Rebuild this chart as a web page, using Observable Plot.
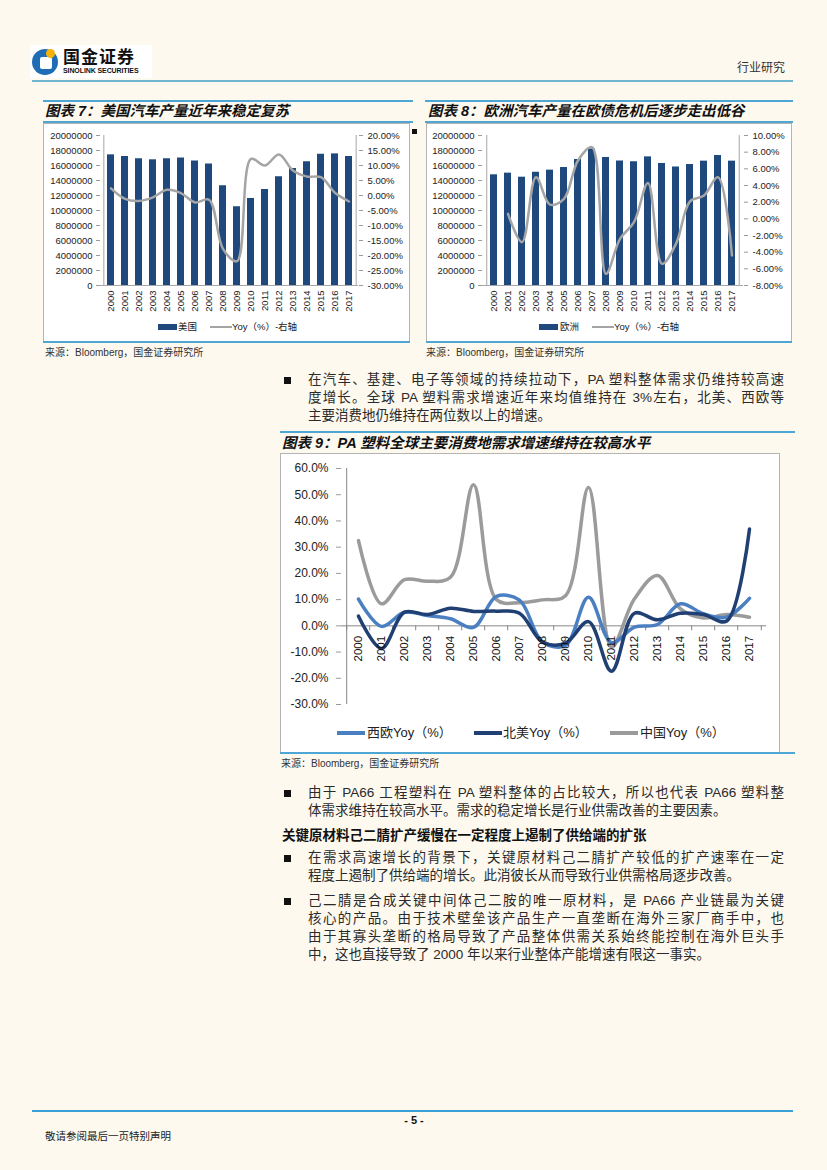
<!DOCTYPE html>
<html><head><meta charset="utf-8">
<script src="https://cdn.jsdelivr.net/npm/d3@7"></script>
<script src="https://cdn.jsdelivr.net/npm/@observablehq/plot@0.6"></script>
<style>
html,body{margin:0;padding:0;background:#fdf9ef;}
#page{position:relative;width:827px;height:1170px;overflow:hidden;background:#fdf9ef;font-family:"Liberation Sans","Noto Sans CJK SC",sans-serif;color:#222;}
.abs{position:absolute;}
.bl{position:absolute;height:2px;background:#4ea6d4;}
.ctitle{position:absolute;font-family:"Liberation Sans","Noto Sans CJK SC";font-weight:700;font-style:italic;font-size:14.5px;color:#111;white-space:nowrap;line-height:16px;}
.box{position:absolute;background:#fff;border:1px solid #b4b4b4;box-sizing:border-box;}
.src{position:absolute;font-size:10px;color:#333;white-space:nowrap;line-height:12px;}
.ln{position:absolute;left:308px;width:476px;font-size:13.5px;line-height:18px;color:#2a2a2a;white-space:nowrap;}
.j{text-align:justify;text-align-last:justify;}
.sq{position:absolute;left:284px;width:7px;height:7px;background:#111;}
.leg{position:absolute;font-size:9.5px;color:#222;white-space:nowrap;line-height:12px;}
.sw{position:absolute;}
#page svg g[aria-label$="axis tick"]{stroke:#9a9a9a;}
</style></head>
<body>
<div id="page">
  <!-- header -->
  <div class="abs" style="left:30px;top:45px;width:122px;height:33px;background:#fff;"></div>
  <div class="abs" style="left:32px;top:49px;width:26px;height:26px;border-radius:50%;background:#1f6db5;"></div>
  <div class="abs" style="left:40px;top:57px;width:12px;height:12px;border-radius:2px;background:#fff;"></div>
  <div class="abs" style="left:46px;top:49px;width:9px;height:9px;border-radius:50%;background:#f2b20a;"></div>
  <div class="abs" style="left:63px;top:46px;font:700 17px 'Noto Sans CJK SC';letter-spacing:1px;color:#111;line-height:20px;">国金证券</div>
  <div class="abs" style="left:63px;top:67px;font:700 7px 'Liberation Sans';color:#111;line-height:8px;letter-spacing:-0.1px;">SINOLINK SECURITIES</div>
  <div class="abs" style="left:737px;top:60px;font:12px 'Noto Sans CJK SC';color:#333;line-height:14px;">行业研究</div>
  <div class="bl" style="left:32px;top:80px;width:761px;background:#6fb6d0;"></div>

  <!-- chart 7 -->
  <div class="bl" style="left:43px;top:100px;width:370px;"></div>
  <div class="ctitle" style="left:45px;top:103px;">图表 7：美国汽车产量近年来稳定复苏</div>
  <div class="bl" style="left:43px;top:121px;width:370px;"></div>
  <div class="box" style="left:43px;top:123px;width:367px;height:220px;"></div>
  <div class="bl" style="left:43px;top:341px;width:367px;"></div>
  <div id="c7a" class="abs" style="left:44px;top:124px;"></div>
  <div id="c7b" class="abs" style="left:44px;top:124px;"></div>
  <div class="sw" style="left:158px;top:324px;width:19px;height:6px;background:#1f497d;"></div>
  <div class="leg" style="left:178px;top:321px;">美国</div>
  <div class="sw" style="left:210px;top:326px;width:22px;height:2px;background:#a5a5a5;"></div>
  <div class="leg" style="left:232px;top:321px;">Yoy（%）-右轴</div>
  <div class="src" style="left:45px;top:347px;">来源：Bloomberg，国金证券研究所</div>

  <div class="abs" style="left:412px;top:129px;width:5px;height:5px;background:#111;"></div>

  <!-- chart 8 -->
  <div class="bl" style="left:425px;top:100px;width:368px;"></div>
  <div class="ctitle" style="left:428px;top:103px;">图表 8：欧洲汽车产量在欧债危机后逐步走出低谷</div>
  <div class="bl" style="left:425px;top:121px;width:368px;"></div>
  <div class="box" style="left:426px;top:123px;width:366px;height:220px;"></div>
  <div class="bl" style="left:426px;top:341px;width:366px;"></div>
  <div id="c8a" class="abs" style="left:427px;top:124px;"></div>
  <div id="c8b" class="abs" style="left:427px;top:124px;"></div>
  <div class="sw" style="left:539px;top:324px;width:19px;height:6px;background:#1f497d;"></div>
  <div class="leg" style="left:560px;top:321px;">欧洲</div>
  <div class="sw" style="left:592px;top:326px;width:22px;height:2px;background:#a5a5a5;"></div>
  <div class="leg" style="left:614px;top:321px;">Yoy（%）-右轴</div>
  <div class="src" style="left:426px;top:347px;">来源：Bloomberg，国金证券研究所</div>

  <!-- paragraph 1 -->
  <div class="sq" style="top:377px;"></div>
  <div class="ln j" style="top:371px;">在汽车、基建、电子等领域的持续拉动下，PA 塑料整体需求仍维持较高速</div>
  <div class="ln j" style="top:389px;">度增长。全球 PA 塑料需求增速近年来均值维持在 3%左右，北美、西欧等</div>
  <div class="ln" style="top:407px;">主要消费地仍维持在两位数以上的增速。</div>

  <!-- chart 9 -->
  <div class="bl" style="left:280px;top:431px;width:515px;"></div>
  <div class="ctitle" style="left:282px;top:435px;">图表 9：PA 塑料全球主要消费地需求增速维持在较高水平</div>
  <div class="box" style="left:280px;top:453px;width:500px;height:301px;"></div>
  <div class="bl" style="left:280px;top:752px;width:515px;"></div>
  <div id="c9" class="abs" style="left:281px;top:454px;"></div>
  <div class="sw" style="left:337px;top:731px;width:28px;height:3.5px;background:#4a7fc1;"></div>
  <div class="leg" style="left:367px;top:725px;font-size:13px;line-height:16px;">西欧Yoy（%）</div>
  <div class="sw" style="left:474px;top:731px;width:28px;height:3.5px;background:#203f73;"></div>
  <div class="leg" style="left:503px;top:725px;font-size:13px;line-height:16px;">北美Yoy（%）</div>
  <div class="sw" style="left:610px;top:731px;width:28px;height:3.5px;background:#9b9b9b;"></div>
  <div class="leg" style="left:640px;top:725px;font-size:13px;line-height:16px;">中国Yoy（%）</div>
  <div class="src" style="left:281px;top:758px;">来源：Bloomberg，国金证券研究所</div>

  <!-- paragraph 2 -->
  <div class="sq" style="top:790px;"></div>
  <div class="ln j" style="top:784px;">由于 PA66 工程塑料在 PA 塑料整体的占比较大，所以也代表 PA66 塑料整</div>
  <div class="ln" style="top:802px;">体需求维持在较高水平。需求的稳定增长是行业供需改善的主要因素。</div>

  <div class="abs" style="left:282px;top:825px;font:700 13.5px 'Noto Sans CJK SC';color:#111;white-space:nowrap;line-height:18px;">关键原材料己二腈扩产缓慢在一定程度上遏制了供给端的扩张</div>

  <div class="sq" style="top:855px;"></div>
  <div class="ln j" style="top:849px;">在需求高速增长的背景下，关键原材料己二腈扩产较低的扩产速率在一定</div>
  <div class="ln" style="top:867px;">程度上遏制了供给端的增长。此消彼长从而导致行业供需格局逐步改善。</div>

  <div class="sq" style="top:898px;"></div>
  <div class="ln j" style="top:892px;">己二腈是合成关键中间体己二胺的唯一原材料，是 PA66 产业链最为关键</div>
  <div class="ln j" style="top:910px;">核心的产品。由于技术壁垒该产品生产一直垄断在海外三家厂商手中，也</div>
  <div class="ln j" style="top:928px;">由于其寡头垄断的格局导致了产品整体供需关系始终能控制在海外巨头手</div>
  <div class="ln" style="top:946px;">中，这也直接导致了 2000 年以来行业整体产能增速有限这一事实。</div>

  <!-- footer -->
  <div class="bl" style="left:32px;top:1110px;width:761px;background:#3aa0d8;"></div>
  <div class="abs" style="left:394px;top:1114px;width:40px;text-align:center;font:700 11px 'Liberation Sans';color:#111;">- 5 -</div>
  <div class="abs" style="left:45px;top:1128px;font:10.5px 'Noto Sans CJK SC';color:#222;">敬请参阅最后一页特别声明</div>
</div>

<script>
const years = ["2000","2001","2002","2003","2004","2005","2006","2007","2008","2009","2010","2011","2012","2013","2014","2015","2016","2017"];

// 图表7 美国汽车产量 / Yoy
const usProd = [17420000,17200000,16900000,16760000,16900000,17000000,16600000,16200000,13300000,10500000,11600000,12800000,14500000,15600000,16500000,17500000,17550000,17200000];
const usYoy  = [2.4,-1.1,-1.8,-0.6,1.9,0.8,-2.3,-1.4,-17.8,-21.9,12.2,10.0,13.7,8.3,6.3,6.1,0.9,-2.0];
const usYoyTicks = [-30,-25,-20,-15,-10,-5,0,5,10,15,20];

// 图表8 欧洲汽车产量 / Yoy
const euProd = [14760000,14980000,14440000,15100000,15380000,15730000,16800000,18200000,17070000,16600000,16500000,17150000,16270000,15800000,16130000,16580000,17330000,16580000];
const euYoy  = [null,0.6,-2.8,5.0,1.7,2.4,7.0,8.6,-6.6,-2.4,-0.4,4.3,-5.4,-3.0,2.1,2.8,5.0,-4.4];
const euYoyTicks = [-8,-6,-4,-2,0,2,4,6,8,10];

const prodTicks = [0,2000000,4000000,6000000,8000000,10000000,12000000,14000000,16000000,18000000,20000000];

// 图表9 PA 塑料需求增速
const weYoy = [10.2,-0.2,5.2,3.9,2.7,-0.6,11.2,9.8,-6.2,-7.5,10.9,-6.4,-0.5,0.5,8.4,4.6,3.3,10.5];
const naYoy = [3.7,-8.6,5.2,4.3,6.7,5.5,5.6,4.8,-6.2,-6.6,1.6,-17.3,4.8,2.3,4.8,4.3,1.8,36.9];
const cnYoy = [32.5,8.4,17.6,17.0,18.5,53.8,10.0,8.8,9.9,11.5,52.8,-8.1,10.3,19.2,6.5,3.0,4.3,3.3];
const pctTicks9 = [-30,-20,-10,0,10,20,30,40,50,60];

const axisGray = "#a6a6a6";

function dual(elA, elB, prod, yoy, yoyDomain, yoyTicks, W, mL, mR) {
  const H = 192, mT = 11, mB = 31;
  const step = (W - mL - mR) / years.length;
  const common = {width: W, height: H, marginLeft: mL, marginRight: mR, marginTop: mT, marginBottom: mB,
    style: {background: "transparent", fontFamily: "Liberation Sans, sans-serif", fontSize: "9.5px", color: "#222", overflow: "visible"}};
  const xs = {type: "band", domain: years, paddingInner: 0.53, paddingOuter: 0.265};
  const bars = years.map((y, i) => ({year: y, v: prod[i]}));
  const line = years.map((y, i) => ({year: y, v: yoy[i]}));
  const a = Plot.plot({...common,
    x: {...xs, tickSize: 0, tickPadding: 5, tickRotate: -90, label: null},
    y: {domain: [0, 20000000], ticks: prodTicks, tickSize: 4, tickPadding: 4, tickFormat: d => String(d), label: null},
    marks: [
      Plot.barY(bars, {x: "year", y: "v", fill: "#1f497d"}),
      Plot.ruleY([0], {stroke: axisGray}),
      Plot.ruleX([years[0]], {x: d => d, dx: -step / 2, stroke: axisGray})
    ]});
  const b = Plot.plot({...common,
    x: {...xs, axis: null},
    y: {domain: yoyDomain, ticks: yoyTicks, axis: "right", tickSize: 4, tickPadding: 5, tickFormat: d => d.toFixed(2) + "%", label: null},
    marks: [
      Plot.ruleX([years[years.length - 1]], {x: d => d, dx: step / 2, stroke: axisGray}),
      Plot.line(line, {x: "year", y: "v", curve: "catmull-rom", stroke: "#a5a5a5", strokeWidth: 2.5})
    ]});
  document.getElementById(elA).append(a);
  document.getElementById(elB).append(b);
}

dual("c7a", "c7b", usProd, usYoy, [-30, 20], usYoyTicks, 365, 56, 51);
dual("c8a", "c8b", euProd, euYoy, [-8, 10], euYoyTicks, 364, 55, 48);

(function () {
  const W = 498, H = 262, mL = 60, mR = 13, mT = 14, mB = 12;
  const step = (W - mL - mR) / years.length;
  const rows = (arr, s) => years.map((y, i) => ({year: y, v: arr[i], s}));
  const g = "#868686";
  const p = Plot.plot({
    width: W, height: H, marginLeft: mL, marginRight: mR, marginTop: mT, marginBottom: mB,
    style: {background: "transparent", fontFamily: "Liberation Sans, sans-serif", fontSize: "12px", color: "#222", overflow: "visible"},
    x: {type: "point", domain: years, padding: 0.5, axis: null},
    y: {domain: [-30, 60], ticks: pctTicks9, tickSize: 5, tickPadding: 8, tickFormat: d => d.toFixed(1) + "%", label: null},
    marks: [
      Plot.ruleX([years[0]], {x: d => d, dx: -step / 2, stroke: g}),
      Plot.ruleY([0], {stroke: g}),
      Plot.ruleX(years, {x: d => d, y1: () => 0, y2: () => 0, insetBottom: -5, dx: -step / 2, stroke: g}),
      Plot.ruleX([years[years.length - 1]], {x: d => d, y1: () => 0, y2: () => 0, insetBottom: -5, dx: step / 2, stroke: g}),
      Plot.line(rows(cnYoy, "cn"), {x: "year", y: "v", curve: "catmull-rom", stroke: "#9b9b9b", strokeWidth: 3.5}),
      Plot.line(rows(weYoy, "we"), {x: "year", y: "v", curve: "catmull-rom", stroke: "#4a7fc1", strokeWidth: 3.5}),
      Plot.line(rows(naYoy, "na"), {x: "year", y: "v", curve: "catmull-rom", stroke: "#203f73", strokeWidth: 3.5}),
      Plot.text(years, {x: d => d, y: () => 0, text: d => d, rotate: -90, textAnchor: "end", dy: 10, fontSize: 11.5, fill: "#111"})
    ]});
  document.getElementById("c9").append(p);
})();
</script>
</body></html>
